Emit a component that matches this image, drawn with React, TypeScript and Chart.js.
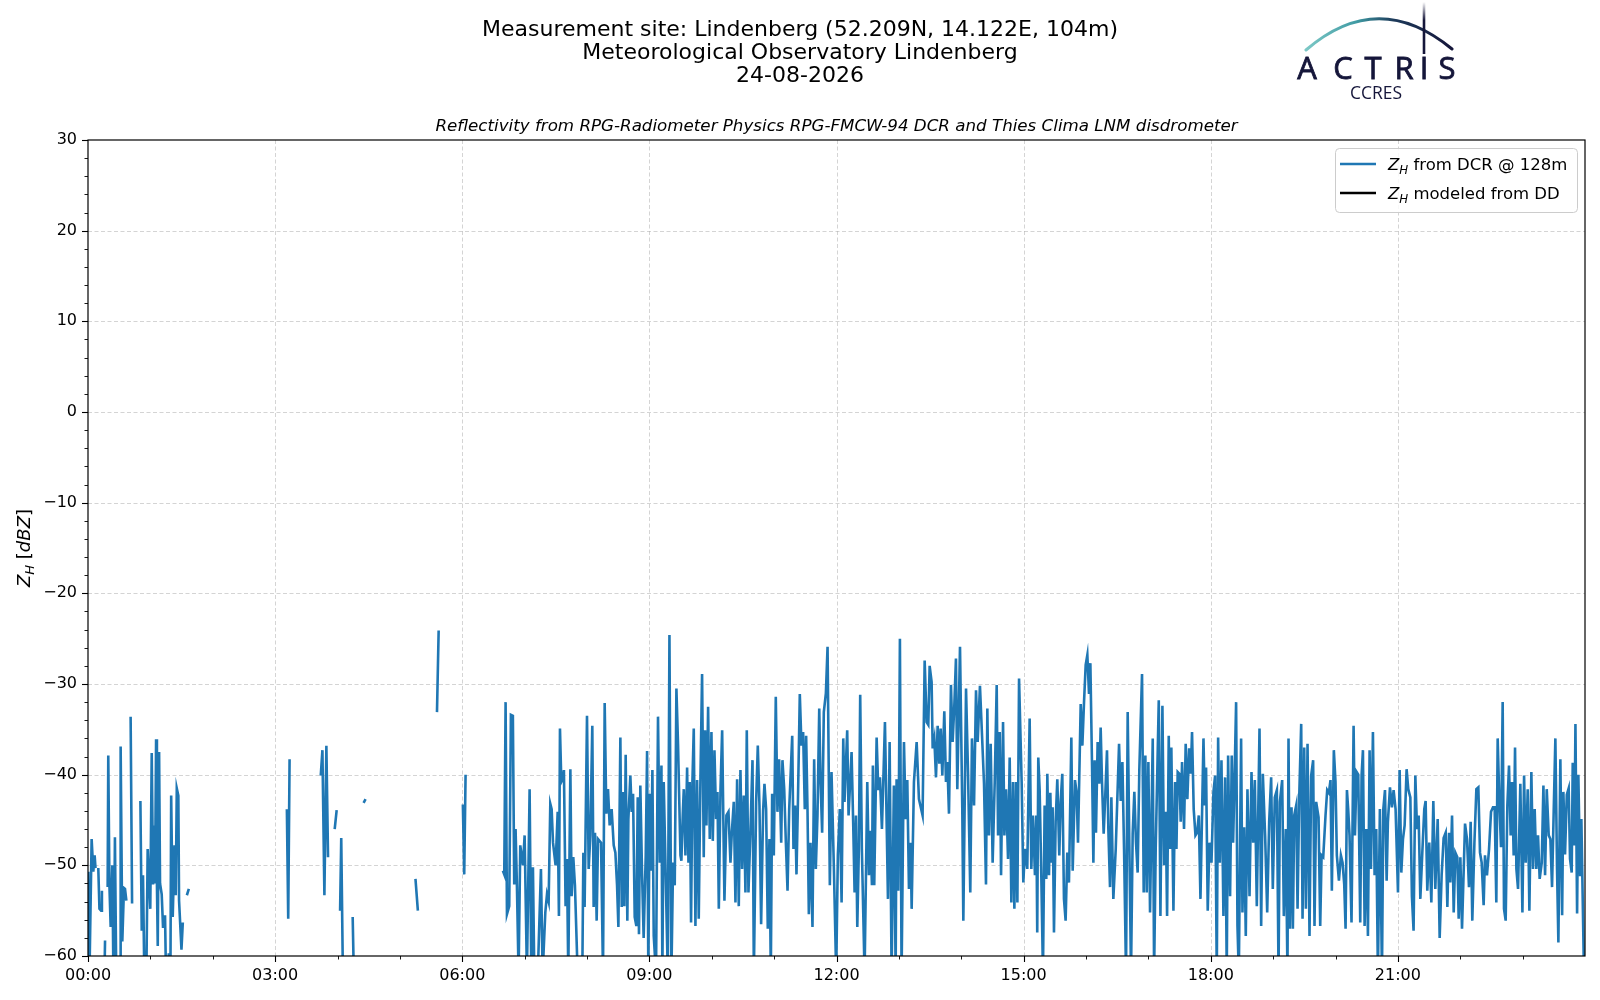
import React, { useEffect, useRef } from "react";
import { Chart, registerables } from "chart.js";

Chart.register(...registerables);

const titleLines = [
  "Measurement site: Lindenberg (52.209N, 14.122E, 104m)",
  "Meteorological Observatory Lindenberg",
  "24-08-2026",
];
const subtitleText =
  "Reflectivity from RPG-Radiometer Physics RPG-FMCW-94 DCR and Thies Clima LNM disdrometer";

const xTickMinutes = [0, 180, 360, 540, 720, 900, 1080, 1260];
const xTickLabels = ["00:00", "03:00", "06:00", "09:00", "12:00", "15:00", "18:00", "21:00"];
const xMinorMinutes = [60, 120, 240, 300, 420, 480, 600, 660, 780, 840, 960, 1020, 1140, 1200, 1320, 1380];
const yTickValues = [30, 20, 10, 0, -10, -20, -30, -40, -50, -60];

const legendLabels = ["from DCR @ 128m", "modeled from DD"];

// time of day in minutes
const timeMinutes: number[] = [
  0.3, 1.0, 3.5, 5.1, 6.4, 7.2, 8, 9.9, 11.0, 12.6,
  13.4, 14, 15.4, 16.4, 17.5, 18.9, 19.5, 20.6, 21.8, 23.4,
  24.7, 25.9, 27.4, 29, 30.8, 31.4, 33.0, 34.6, 35.6, 36.9,
  38, 41.0, 42.4, 45, 50.4, 51.7, 52.9, 54.5, 55.9, 57.4,
  59.9, 61.3, 62.6, 63.5, 64.5, 65.5, 66.3, 67.1, 68.4, 69.3,
  70.9, 72.2, 74.1, 75.4, 77.7, 79.3, 80.0, 81.5, 83.2, 84.4,
  85.4, 86.9, 87.6, 89.9, 91.2, 93, 95.1, 97.0, 100, 191.3,
  192.6, 193.9, 200, 223.9, 225.5, 227.4, 229.3, 230.9, 234, 237.3,
  239.2, 241, 242.5, 243.6, 245.5, 250, 254.6, 256.2, 260, 265.1,
  267.0, 290, 315.0, 317.3, 325, 335.7, 337.3, 350, 360.6, 361.9,
  363.2, 380,
  399.1, 400.4, 401.7, 403, 405.2, 406.8, 408.7, 410, 411.3, 412.6,
  414.2, 415.8, 418.4, 420, 422.2, 424.8, 426.4, 428, 429.3, 431.9,
  435.7, 437.3, 439.9, 441.5, 443.1, 444.7, 446, 447.3, 449.8, 451.8,
  453, 454, 455.3, 456.6, 457.8, 459.4, 460.7, 462, 464, 465.2,
  466.8, 468.4, 471, 475.5, 476.5, 477.7, 480, 481.6, 483.2, 485.1,
  486.4, 487.7, 489.3, 490.6, 493.5, 495.4, 497, 498.6, 500.2, 501.8,
  503.7, 505.7, 507.3, 508.9, 510.2, 512.1, 513.4, 514.6, 515.9, 517.2,
  518.8, 519.8, 521.7, 523, 524.3, 525.9, 527.5, 528.8, 530, 531.3,
  532.9, 534.5, 536.5, 537.8, 539, 540.3, 541.6, 542.9, 544.2, 546.4,
  548.3, 550,
  551.6, 552.5, 553.8, 557.7, 559.3, 561.2, 562.8, 564.4, 566, 567.6,
  569.9, 570.8, 572.1, 573.1, 574.7, 576.3, 577.6, 578.8, 580.1, 581.4,
  582.7, 584.3, 585.9, 587.5, 589.1, 590.7, 592.3, 593.6, 594.9, 596.5,
  598.1, 599.7, 601, 602.6, 604.2, 605.5, 606.8, 608.4, 610, 612.2,
  614.1, 616.1, 618, 619.3, 621.2, 622.8, 624.4, 626, 627.6, 629.2,
  630.8, 632.4, 633.7, 635.3, 637.3, 639.2, 640.5, 642.7, 644.3, 645.9,
  647.5, 649.4, 650.7, 652.3, 653.9, 655.5, 656.8, 658.1, 659.7, 661.6,
  663.2, 664.8, 666.8, 668, 669.7, 671.3, 672.9, 674.5, 677.4, 678.6,
  680.2, 681.5, 682.8, 684.7, 686.3, 687.9, 689.5, 690.8, 692.1, 693.4,
  695, 696.9, 698.5, 700.1, 701.7, 703.4, 704.6, 706.2, 707.8, 709.8,
  711.4, 713.6, 715.2, 717.5, 719.7, 721.3, 723.2,
  724.9, 726.5, 727.7, 730.3, 731.6, 734.5, 736.1, 737.4, 738.7, 740,
  741.5, 742.8, 744.4, 747, 749.6, 751.2, 752.5, 754.1, 755, 756.3,
  758.6, 760.2, 761.8, 763.7, 766.6, 769.5, 771.1, 773, 775.2, 776.9,
  777.8, 779.4, 781, 782.6, 784.9, 786.5, 788.1, 789.7, 791.3, 792.3,
  794.5, 797.1, 799.3, 802.8, 804.8, 806.7, 808.3, 809.6, 811.5, 812.5,
  814.1, 815.7, 817.3, 818.9, 820.2, 821.8, 823.7, 825.3, 826.6, 828.2,
  830.1, 831.7, 833.3, 834.9, 836.2, 838.8, 841, 842, 844.6, 846.5,
  848.7, 850.3, 852.3, 854.2, 855.8, 858, 860, 861.9, 863.8, 865.1,
  866.7, 868.3, 870.2, 872.2, 874.1, 875.4, 877, 878.3, 880.2, 881.5,
  883.1, 885, 886.6, 888.2, 889.8, 891.1, 892.7, 894, 895.6,
  898.1, 899.7, 901.3, 903.5, 905.8, 907.4, 909, 910.9, 912.2, 913.1,
  914.1, 915.4, 917, 918.6, 920.2, 921.8, 922.8, 924.4, 925.7, 927,
  927.9, 929.2, 930.8, 932.4, 934.3, 935.6, 937.2, 938.8, 940.4, 942,
  943.6, 945.9, 947.2, 949.4, 951, 952.3, 954.9, 956.5, 958.1, 959.7,
  961.3, 962.9, 964.2, 965.8, 967.1, 968.3, 969.6, 971.2, 972.8, 974.1,
  975.4, 977, 978.3, 980.2, 981.5, 983.1, 984.4, 986.3, 988.6, 991.8,
  993.4, 995, 996.6, 998.5, 1000.1, 1001.7, 1003.3, 1004.9, 1006.5, 1008.1,
  1009.7, 1011.3, 1013.9, 1015.5, 1017.1, 1018.4, 1020, 1021.6, 1024.2, 1025.5,
  1027.1, 1030, 1031.6, 1033.5, 1035.1, 1036.7, 1038, 1039.6, 1040.9, 1042.1,
  1044.1, 1045.7, 1047, 1048.2, 1049.8, 1051.1, 1052.4, 1054.3, 1055.9, 1057.5,
  1059.2, 1060.8, 1062, 1063.6, 1065.3, 1066.9, 1068.5, 1070.1,
  1073, 1074.3, 1075.5, 1077.1, 1078.7, 1080.7, 1082.6, 1084.2, 1085.8, 1087.1,
  1088.7, 1090.3, 1092.2, 1093.8, 1095.4, 1096.7, 1098.6, 1100.2, 1101.5, 1102.8,
  1104.4, 1105.7, 1107, 1109.2, 1110.5, 1112.1, 1113.7, 1115.3, 1117.3, 1119.2,
  1120.8, 1122.4, 1124.3, 1126.9, 1128.5, 1130.1, 1132.3, 1134.3, 1136.2, 1138.1,
  1139.7, 1141.6, 1143.6, 1145.2, 1146.5, 1148.7, 1150.3, 1152.2, 1153.8, 1154.8,
  1156.1, 1157.7, 1159, 1160.3, 1162.2, 1163.5, 1165.1, 1167, 1168.3, 1169.9,
  1171.5, 1173.1, 1175, 1176.6, 1178.5, 1179.8, 1181.4, 1183.7, 1185.3, 1186.6,
  1188.2, 1190.4, 1192, 1193.6, 1195.2, 1196.5, 1198.4, 1200, 1201.3, 1203.3,
  1205.2, 1206.8, 1208.4, 1209.7, 1211, 1212.2, 1213.5, 1215.4, 1217.4, 1218.7,
  1220.3, 1221.9, 1223.8, 1225.1, 1226.4, 1228, 1229.6, 1231.2, 1232.8, 1234.1,
  1236, 1237.6, 1239.2, 1240.8, 1242.7,
  1244.7, 1246, 1247.6, 1249.2, 1250.4, 1252.4, 1254.3, 1255.9, 1257.8, 1260.1,
  1261.7, 1263.3, 1264.9, 1266.5, 1268.4, 1270, 1272, 1273.5, 1275.1, 1276.8,
  1278.4, 1280, 1281.6, 1283.5, 1285.4, 1286.7, 1288.3, 1290.2, 1292.2, 1294.1,
  1296, 1298.3, 1300.2, 1302.1, 1304, 1306, 1307.6, 1309.2, 1310.4, 1312.1,
  1313.7, 1315.3, 1317.2, 1318.5, 1320.1, 1321.7, 1324.6, 1326.5, 1328.4, 1330,
  1331.6, 1333.6, 1335.5, 1337.4, 1339, 1340.6, 1342.5, 1343.8, 1345.7, 1347.7,
  1349.6, 1351.5, 1353.1, 1354.7, 1356, 1357.6, 1359.2, 1360.8, 1362.1, 1363.7,
  1365.3, 1366.9, 1368.5, 1369.8, 1371.4, 1372.7, 1374, 1375.6, 1377.8, 1379.8,
  1381.4, 1383, 1384.9, 1386.5, 1388.4, 1390, 1391.6, 1393.2, 1394.8, 1396.4,
  1398.4, 1400, 1401.6, 1403.2, 1405.1, 1406.7, 1408.3, 1409.9, 1411.5, 1413.1,
  1414.4, 1416.3, 1418, 1419.2, 1420.8, 1422.5, 1424.3, 1425.6, 1427.2, 1428.2,
  1429.8, 1430.8, 1432.4, 1433.6, 1435.3, 1436.5, 1438.8,
];

// Z_H from DCR @ 128m [dBZ]; null = no data
const zhDCR: (number | null)[] = [
  -50.7, -65, -47.1, -50.7, -48.9, -50.3, null, -50.3, -54.8, -55,
  -52.8, null, -65, -58.3, null, -52.4, -37.9, -52.2, -56.8, -50,
  -65, -46.9, -65, null, -65, -36.9, -58.4, -52.5, -52.6, -53.9,
  null, -33.6, -54.2, null, -42.9, -57.2, -51.1, -65, -65, -48.2,
  -54.8, -37.6, -52.1, -45.6, -52, -36.1, -52, -58.9, -37.5, -52,
  -53.2, -56.9, -55.5, -65, -59.7, -62, -42.3, -55.7, -47.8, -53.3,
  -41.5, -42.3, -53.9, -59.3, -56.3, null, -53.3, -52.6, null, -43.8,
  -55.9, -38.3, null, -40.1, -37.3, -53.3, -36.8, -49.1, null, -46,
  -43.9, null, -55, -47, -65, null, -55.7, -65, null, -43.1,
  -42.7, null, -51.5, -55, null, -33.1, -24.1, null, -43.3, -51,
  -40, null,
  -50.6, -51, -32, -55.4, -54.5, -33.4, -33.5, -52.1, -46, -52.3,
  -62, -47.8, -50, -46.7, -62, -41.6, -62, -50.2, -62, -65,
  -50.4, -62, -55.2, -53.2, -54, -43.2, -43.8, -47.5, -50, -44.1,
  -55.6, -34.9, -40.8, -40.5, -39.5, -54.5, -49.3, -62, -39.4, -53.4,
  -49.1, -52.2, -62, -62, -48.6, -54.6, -33.5, -50.4, -46.7, -34.6,
  -54.6, -46.4, -56.1, -47.1, -47.5, -62, -32.1, -44.3, -41.6, -45.6,
  -43.8, -47.8, -48.6, -52.2, -56.8, -35.9, -54.6, -41.9, -54.5, -37.8,
  -56.1, -44.9, -40.1, -44.1, -42.1, -55.7, -56.7, -42.5, -57.6, -41.2,
  -50.6, -58, -48.9, -37.4, -62, -42.1, -50.6, -39.5, -57.8, -62,
  -33.6, -49.7,
  -39, -62, -40.8, -62, -24.6, -62, -49.7, -52.2, -30.5, -36.8,
  -48.9, -49.5, -44.5, -41.6, -48.9, -39.2, -49.7, -40.8, -56.3, -40.8,
  -34.9, -56.7, -40.6, -55.9, -40.6, -28.9, -49.1, -35.1, -45.6, -32.5,
  -47.1, -35.3, -47.3, -37.3, -44.9, -41.9, -54.8, -41.7, -35.1, -53.9,
  -44.5, -44.1, -49.7, -46.4, -43, -54.1, -40.5, -54.5, -39.5, -50.4,
  -42.3, -53, -35.1, -53, -46, -38.4, -62, -43, -36.8, -43.4,
  -56.5, -44, -41, -43.8, -57, -47.1, -62, -42.1, -48.9, -31.4,
  -44.1, -38.3, -47.5, -38.4, -41.6, -47.5, -52.8, -43.8, -35.7, -48.2,
  -43.4, -51, -43.6, -31.1, -36.8, -35.3, -43.8, -35.7, -43.8, -55.4,
  -47.5, -56.8, -38.3, -50.4, -44.5, -32.7, -40.5, -46.4, -33.1, -31,
  -25.9, -52.2, -39.7, -50.4, -62, -48.9, -43.8,
  -54.1, -36, -43, -35.1, -44.5, -37.5, -45.6, -53, -44.5, -56.8,
  -48.2, -31.2, -48.2, -62, -40.8, -51.1, -46.2, -52.2, -39, -52.2,
  -35.9, -41.7, -40.3, -46, -34.2, -53.7, -36.4, -62, -41.2, -62,
  -40.5, -52.8, -25, -62, -36.4, -44.9, -40.6, -52.6, -47.5, -54.8,
  -40.8, -36.4, -42.7, -44.5, -27.4, -34.2, -34.5, -28, -29.8, -37.1,
  -36, -40.3, -34.6, -38.8, -34.9, -40.1, -33, -40.8, -38.6, -44.3,
  -30.1, -36.4, -32.5, -27.2, -41.6, -25.9, -43.8, -56.1, -30.5, -39.7,
  -53, -36, -43.4, -30.7, -36.4, -30.2, -35.7, -41, -52.1, -32.7,
  -46.7, -36.6, -49.7, -40.8, -30.1, -46.7, -35.3, -51.1, -34.2, -46.7,
  -41.6, -49.3, -38.1, -54.1, -40.8, -54.8, -40.8, -54.1, -29.4,
  -40.8, -51.9, -48.2, -50.4, -33.8, -50.4, -44.5, -51.1, -44.5, -57.4,
  -38.1, -41.6, -51.1, -62, -43.4, -51.5, -39.9, -51.1, -42, -49.7,
  -43.6, -57.4, -45.2, -40.5, -48.9, -43, -39.9, -53.7, -56.1, -48.6,
  -51.9, -35.9, -50.6, -40.6, -42, -47.5, -32.2, -36.8, -32, -27.9,
  -26.8, -31.1, -27.7, -39, -49.7, -38.4, -46.4, -36.4, -41, -34.8,
  -40.8, -46.5, -43, -37.3, -46, -52.4, -42.5, -53.7, -48.2, -36.6,
  -42.9, -38.6, -48.2, -62, -33.1, -47.8, -62, -46.5, -41.9, -47.5,
  -50.8, -39.4, -28.9, -53, -37.9, -53, -38.6, -55.2, -36, -62,
  -47.8, -31.8, -55.6, -32.4, -50, -44.1, -55.6, -35.7, -48.2, -37,
  -55, -40.8, -48.2, -39.7, -39.9, -45.2, -38.6, -46, -36.6, -42.7,
  -37.1, -39.9, -35.3, -43.8, -46.7, -46.4, -44.5, -53.7,
  -36, -43.4, -39.2, -55, -47.5, -49.7, -41.9, -40.1, -62, -35.9,
  -49.7, -38.4, -55.6, -40.3, -62, -37.9, -53.4, -37.9, -47.5, -41,
  -32, -56.7, -62, -36, -55.2, -45.8, -57.8, -41.6, -53.4, -39.7,
  -47.5, -40.6, -54.5, -34.9, -56.7, -39.9, -46.7, -55.2, -45.2, -40.3,
  -52.6, -42.5, -41.7, -62, -43, -40.6, -55.6, -46, -62, -36,
  -57, -43.6, -57, -44.5, -43.4, -54.8, -42.5, -34.4, -55.9, -37,
  -54.8, -36.6, -57.8, -40.1, -38.4, -56.7, -43, -44.7, -56.7, -48.9,
  -49.1, -44.5, -41.7, -42, -40.6, -52.8, -37.3, -40.8, -48.9, -51.7,
  -48.9, -49.7, -52.1, -57, -41.7, -43.8, -46.7, -56.3, -34.6, -46.7,
  -39.7, -40, -56.3, -40.1, -37.3, -56.7, -46, -57.8, -37.3, -50.4,
  -35.3, -51.1, -46, -62, -43.8,
  -62, -43.8, -41.7, -51.7, -45.2, -41.4, -43.6, -41.7, -43.8, -53,
  -39.5, -50.8, -47.1, -45.6, -39.4, -41.6, -42.5, -53.4, -57.2, -40.1,
  -46, -44.5, -53.7, -48.6, -43.8, -42.9, -52.8, -47.5, -54.1, -42.9,
  -52.6, -44.9, -58, -51.1, -47, -46.4, -54.6, -46.4, -51.9, -44.5,
  -55.2, -48.6, -49.1, -55.9, -49.1, -57, -45.4, -47.1, -52.4, -45.2,
  -56.1, -47.6, -41.6, -41.4, -48.6, -49.7, -54.4, -48.9, -51.1, -48.2,
  -44.1, -43.6, -43.6, -54.1, -36, -43, -48, -32, -54.8, -56.1,
  -43.4, -39, -46.7, -40.8, -48.9, -37, -50.4, -52.6, -41, -55.2,
  -40.1, -49.7, -41.6, -55, -39.7, -50.4, -43.8, -50.4, -46.7, -51.5,
  -49.7, -41.2, -51.1, -41.6, -46.7, -47.1, -52.4, -44, -36, -50.4,
  -58.5, -38.3, -55.5, -41.9, -48.8, -42.2, -41.5, -49.3, -50.8, -38.7,
  -47.8, -34.4, -55.3, -40, -51.2, -44.9, -60.5,
];

// modeled Z_H from disdrometer: no valid samples on this day
const zhModeled: (number | null)[] = [];

const FONT = '"DejaVu Sans", "Liberation Sans", sans-serif';

function drawRich(
  ctx: CanvasRenderingContext2D,
  parts: { text: string; font: string; dy: number }[],
  x: number,
  y: number,
  align: "left" | "center"
) {
  let total = 0;
  for (const p of parts) {
    ctx.font = p.font;
    total += ctx.measureText(p.text).width;
  }
  let cx = align === "center" ? x - total / 2 : x;
  ctx.textAlign = "left";
  ctx.textBaseline = "alphabetic";
  for (const p of parts) {
    ctx.font = p.font;
    ctx.fillText(p.text, cx, y + p.dy);
    cx += ctx.measureText(p.text).width;
  }
}

const decorPlugin = {
  id: "decor",
  beforeDatasetsDraw(chart: any) {
    const { ctx, chartArea: a, scales } = chart;
    const xs = scales.x;
    const ys = scales.y;
    ctx.save();
    ctx.strokeStyle = "rgba(176,176,176,0.55)";
    ctx.lineWidth = 1;
    ctx.setLineDash([4, 2.5]);
    for (const m of xTickMinutes) {
      if (m === 0) continue;
      const px = Math.round(xs.getPixelForValue(m)) + 0.5;
      ctx.beginPath();
      ctx.moveTo(px, a.top);
      ctx.lineTo(px, a.bottom);
      ctx.stroke();
    }
    for (const v of yTickValues) {
      if (v === 30 || v === -60) continue;
      const py = Math.round(ys.getPixelForValue(v)) + 0.5;
      ctx.beginPath();
      ctx.moveTo(a.left, py);
      ctx.lineTo(a.right, py);
      ctx.stroke();
    }
    ctx.restore();
  },
  afterDatasetsDraw(chart: any) {
    const { ctx, chartArea: a, scales } = chart;
    const xs = scales.x;
    const ys = scales.y;
    ctx.save();
    ctx.setLineDash([]);
    ctx.strokeStyle = "#000";
    ctx.lineWidth = 1.2;
    ctx.strokeRect(a.left, a.top, a.right - a.left, a.bottom - a.top);
    ctx.lineWidth = 1.1;
    for (const m of xTickMinutes) {
      const px = Math.round(xs.getPixelForValue(m)) + 0.5;
      ctx.beginPath();
      ctx.moveTo(px, a.bottom);
      ctx.lineTo(px, a.bottom + 6);
      ctx.stroke();
    }
    ctx.lineWidth = 0.9;
    for (const m of xMinorMinutes) {
      const px = Math.round(xs.getPixelForValue(m)) + 0.5;
      ctx.beginPath();
      ctx.moveTo(px, a.bottom);
      ctx.lineTo(px, a.bottom + 3.5);
      ctx.stroke();
    }
    for (let v = -60; v <= 30; v += 2) {
      const major = v % 10 === 0;
      const py = Math.round(ys.getPixelForValue(v)) + 0.5;
      ctx.lineWidth = major ? 1.1 : 0.9;
      ctx.beginPath();
      ctx.moveTo(a.left, py);
      ctx.lineTo(a.left - (major ? 6 : 3.5), py);
      ctx.stroke();
    }
    ctx.restore();
  },
  afterDraw(chart: any) {
    const { ctx, chartArea: a } = chart;
    ctx.save();
    ctx.fillStyle = "#000";
    ctx.font = `22px ${FONT}`;
    ctx.textAlign = "center";
    ctx.textBaseline = "middle";
    const tY = [30, 53, 76];
    titleLines.forEach((t, i) => ctx.fillText(t, 800, tY[i]));
    ctx.font = `italic 16.7px ${FONT}`;
    ctx.fillText(subtitleText, (a.left + a.right) / 2, 127);

    // y-axis label  Z_H [dBZ]
    ctx.save();
    ctx.translate(30, (a.top + a.bottom) / 2);
    ctx.rotate(-Math.PI / 2);
    drawRich(
      ctx,
      [
        { text: "Z", font: `italic 18px ${FONT}`, dy: 0 },
        { text: "H", font: `italic 13px ${FONT}`, dy: 4 },
        { text: " [", font: `18px ${FONT}`, dy: 0 },
        { text: "dBZ", font: `italic 18px ${FONT}`, dy: 0 },
        { text: "]", font: `18px ${FONT}`, dy: 0 },
      ],
      0,
      0,
      "center"
    );
    ctx.restore();

    // legend
    const lx = 1335, ly = 148, lw = 242, lh = 64;
    ctx.fillStyle = "rgba(255,255,255,0.85)";
    ctx.strokeStyle = "#cccccc";
    ctx.lineWidth = 1;
    ctx.beginPath();
    ctx.roundRect(lx + 0.5, ly + 0.5, lw, lh, 4);
    ctx.fill();
    ctx.stroke();
    const ds = chart.data.datasets;
    const rows = [164, 193];
    rows.forEach((ry, i) => {
      ctx.strokeStyle = ds[i].borderColor;
      ctx.lineWidth = 2.4;
      ctx.beginPath();
      ctx.moveTo(1340, ry);
      ctx.lineTo(1376, ry);
      ctx.stroke();
      ctx.fillStyle = "#000";
      drawRich(
        ctx,
        [
          { text: "Z", font: `italic 16.5px ${FONT}`, dy: 0 },
          { text: "H", font: `italic 11.8px ${FONT}`, dy: 3.5 },
          { text: " " + legendLabels[i], font: `16.5px ${FONT}`, dy: 0 },
        ],
        1388,
        ry + 6,
        "left"
      );
    });

    // ACTRIS logo
    const navy = "#15163a";
    const g = ctx.createLinearGradient(1306, 0, 1452, 0);
    g.addColorStop(0, "#7cc8c6");
    g.addColorStop(0.35, "#3f9aa3");
    g.addColorStop(0.6, "#1d3a5a");
    g.addColorStop(1, navy);
    ctx.strokeStyle = g;
    ctx.lineWidth = 3;
    ctx.lineCap = "round";
    ctx.beginPath();
    ctx.moveTo(1306, 50);
    ctx.quadraticCurveTo(1378, -12, 1452, 49);
    ctx.stroke();
    const vg = ctx.createLinearGradient(0, 2, 0, 54);
    vg.addColorStop(0, "rgba(21,22,58,0)");
    vg.addColorStop(0.35, navy);
    vg.addColorStop(1, navy);
    ctx.strokeStyle = vg;
    ctx.lineWidth = 2.6;
    ctx.lineCap = "butt";
    ctx.beginPath();
    ctx.moveTo(1424, 2);
    ctx.lineTo(1424, 54);
    ctx.stroke();
    ctx.fillStyle = navy;
    ctx.strokeStyle = navy;
    ctx.lineWidth = 0.8;
    ctx.font = `31px "Open Sans", ${FONT}`;
    ctx.textAlign = "center";
    ctx.textBaseline = "alphabetic";
    const letters = ["A", "C", "T", "R", "I", "S"];
    const lxs = [1307, 1343, 1373, 1404, 1424, 1447];
    letters.forEach((c, i) => {
      ctx.fillText(c, lxs[i], 79);
      ctx.strokeText(c, lxs[i], 79);
    });
    ctx.font = `17.5px "Open Sans", ${FONT}`;
    ctx.fillText("CCRES", 1376, 99);
    ctx.restore();
  },
};

export default function App() {
  const ref = useRef<HTMLCanvasElement | null>(null);
  useEffect(() => {
    if (!ref.current) return;
    const chart = new Chart(ref.current, {
      type: "line",
      data: {
        datasets: [
          {
            label: "Z_H from DCR @ 128m",
            data: timeMinutes.map((t, i) => ({ x: t, y: zhDCR[i] })) as any,
            borderColor: "#1f77b4",
            borderWidth: 2.6,
            pointRadius: 0,
            spanGaps: false,
            tension: 0,
            fill: false,
          },
          {
            label: "Z_H modeled from DD",
            data: zhModeled.map((v, i) => ({ x: i, y: v })) as any,
            borderColor: "#000000",
            borderWidth: 2,
            pointRadius: 0,
            fill: false,
          },
        ],
      },
      options: {
        animation: false,
        responsive: false,
        devicePixelRatio: 1,
        layout: { padding: { left: 0, right: 15, top: 140, bottom: 0 } },
        plugins: {
          legend: { display: false },
          title: { display: false },
          tooltip: { enabled: false },
        },
        scales: {
          x: {
            type: "linear",
            min: 0,
            max: 1440,
            afterBuildTicks: (s: any) => {
              s.ticks = xTickMinutes.map((v) => ({ value: v }));
            },
            afterFit: (s: any) => {
              s.height = 44;
            },
            ticks: {
              autoSkip: false,
              maxRotation: 0,
              padding: 10,
              color: "#000",
              font: { family: FONT, size: 16 },
              callback: (v: any) => {
                const i = xTickMinutes.indexOf(Number(v));
                return i >= 0 ? xTickLabels[i] : "";
              },
            },
            grid: { display: false, drawTicks: false },
            border: { display: false },
          },
          y: {
            type: "linear",
            min: -60,
            max: 30,
            afterBuildTicks: (s: any) => {
              s.ticks = yTickValues.map((v) => ({ value: v }));
            },
            afterFit: (s: any) => {
              s.width = 88;
            },
            ticks: {
              padding: 11,
              color: "#000",
              font: { family: FONT, size: 16 },
              callback: (v: any) => (Number(v) < 0 ? "\u2212" + Math.abs(Number(v)) : String(v)),
            },
            grid: { display: false, drawTicks: false },
            border: { display: false },
          },
        },
      },
      plugins: [decorPlugin],
    });
    return () => chart.destroy();
  }, []);

  return (
    <div style={{ position: "absolute", left: 0, top: 0, width: 1600, height: 1000, background: "#fff" }}>
      <canvas ref={ref} width={1600} height={1000} style={{ width: 1600, height: 1000, display: "block" }} />
    </div>
  );
}
